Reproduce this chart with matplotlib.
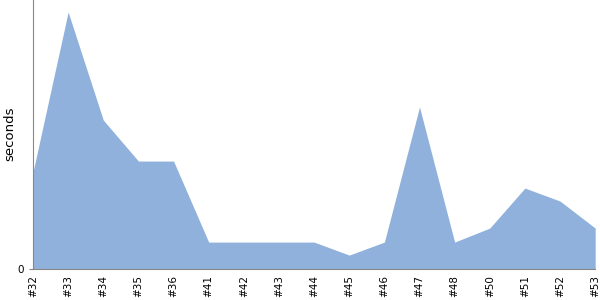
import matplotlib
matplotlib.use('Agg')
import matplotlib.pyplot as plt

BUILDS = ['#32', '#33', '#34', '#35', '#36', '#41', '#42', '#43', '#44',
          '#45', '#46', '#47', '#48', '#50', '#51', '#52', '#53']
DURATIONS = [9.7, 25.7, 14.9, 10.8, 10.8, 2.7, 2.7, 2.7, 2.7,
             1.4, 2.7, 16.2, 2.7, 4.1, 8.1, 6.8, 4.1]

fig = plt.figure(figsize=(6, 3), dpi=100)
ax = fig.add_axes([0.055, 0.103, 0.937, 0.897])

x = list(range(len(BUILDS)))
ax.fill_between(x, DURATIONS, 0, color='#8fb1db', linewidth=0)

ax.set_xlim(0, len(BUILDS) - 1)
ax.set_ylim(0, 26.9)
ax.set_yticks([0])
ax.set_xticks(x)
ax.set_xticklabels(BUILDS, rotation=90, fontsize=7.5)
ax.tick_params(axis='y', labelsize=7.5, length=3, color='#888888')
ax.tick_params(axis='x', length=0, pad=4)

# y-label placed by hand so it fits inside the narrow left margin
fig.text(10 / 600, 1 - 134 / 300, 'seconds', rotation=90,
         ha='center', va='center', fontsize=9.5)

for side in ('top', 'right'):
    ax.spines[side].set_visible(False)
for side in ('left', 'bottom'):
    ax.spines[side].set_color('#888888')

fig.savefig('out.png')
